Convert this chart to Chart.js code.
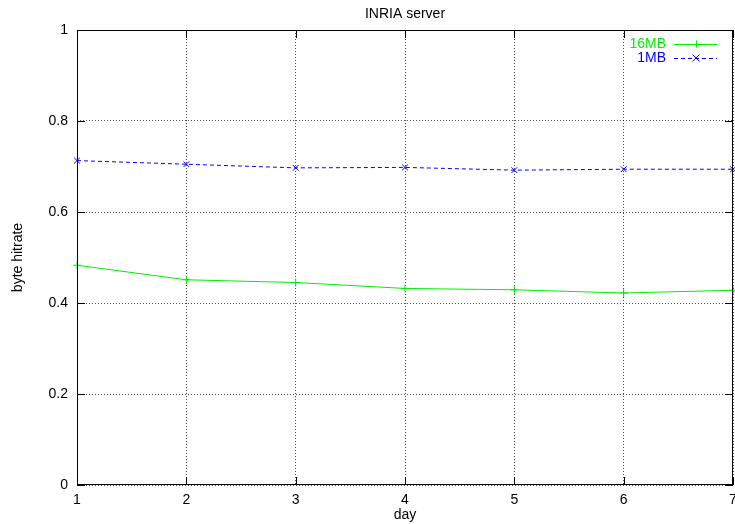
<!DOCTYPE html>
<html>
<head>
<meta charset="utf-8">
<script src="https://cdn.jsdelivr.net/npm/chart.js@4/dist/chart.umd.min.js"></script>
<style>
  html, body { margin: 0; padding: 0; background: #fff; }
  #wrap { width: 735px; height: 524px; }
</style>
</head>
<body>
<div id="wrap"><canvas id="c" width="735" height="524"></canvas></div>
<script>
// Byte hit rate per day for two cache sizes
const days = [1, 2, 3, 4, 5, 6, 7];
const hit16MB = [0.483, 0.451, 0.445, 0.432, 0.429, 0.422, 0.428];
const hit1MB  = [0.713, 0.705, 0.697, 0.698, 0.692, 0.694, 0.694];
const yTicks = [0, 0.2, 0.4, 0.6, 0.8, 1];
const xTicks = [1, 2, 3, 4, 5, 6, 7];
const seriesNames = ['16MB', '1MB'];
const chartTitle = 'INRIA server';

const FONT = 'Liberation Sans, Arial, Helvetica, sans-serif';
const GREEN = '#00ee00';
const BLUE = '#0000ff';

const toPoints = (xs, ys) => xs.map((x, i) => ({ x, y: ys[i] }));

// Frame, inward tick marks, title and key drawn in gnuplot style
const gnuplotDecor = {
  id: 'gnuplotDecor',
  afterDatasetsDraw(chart) {
    const { ctx, chartArea: a, scales } = chart;
    ctx.save();
    // frame
    ctx.strokeStyle = '#000';
    ctx.lineWidth = 1;
    ctx.setLineDash([]);
    ctx.strokeRect(a.left + 0.5, a.top + 0.5, a.right - a.left - 1, a.bottom - a.top - 1);
    // inward ticks
    const tl = 8;
    ctx.beginPath();
    yTicks.forEach(v => {
      const y = Math.round(scales.y.getPixelForValue(v)) + 0.5;
      ctx.moveTo(a.left, y); ctx.lineTo(a.left + tl, y);
      ctx.moveTo(a.right, y); ctx.lineTo(a.right - tl, y);
    });
    xTicks.forEach(v => {
      const x = Math.round(scales.x.getPixelForValue(v)) + 0.5;
      ctx.moveTo(x, a.bottom); ctx.lineTo(x, a.bottom - tl);
      ctx.moveTo(x, a.top); ctx.lineTo(x, a.top + tl);
    });
    ctx.stroke();

    // title
    ctx.fillStyle = '#000';
    ctx.font = '14px ' + FONT;
    ctx.textAlign = 'center';
    ctx.textBaseline = 'middle';
    ctx.fillText(chartTitle, (a.left + a.right) / 2, 14);

    // key
    chart.data.datasets.forEach((ds, i) => {
      const y = a.top + 14 + i * 14;
      const textRight = a.right - 67;
      const x0 = a.right - 59, x1 = a.right - 16;
      ctx.font = '14px ' + FONT;
      ctx.textAlign = 'right';
      ctx.fillStyle = ds.borderColor;
      ctx.fillText(seriesNames[i], textRight, y);
      ctx.strokeStyle = ds.borderColor;
      ctx.lineWidth = 1;
      ctx.setLineDash(ds.borderDash || []);
      ctx.beginPath();
      ctx.moveTo(x0, y + 0.5); ctx.lineTo(x1, y + 0.5);
      ctx.stroke();
      ctx.setLineDash([]);
      const mx = Math.round((x0 + x1) / 2), r = 3.5;
      ctx.beginPath();
      if (ds.pointStyle === 'cross') {
        ctx.moveTo(mx - r, y + 0.5); ctx.lineTo(mx + r, y + 0.5);
        ctx.moveTo(mx + 0.5, y - r); ctx.lineTo(mx + 0.5, y + r);
      } else {
        ctx.moveTo(mx - r, y - r); ctx.lineTo(mx + r, y + r);
        ctx.moveTo(mx - r, y + r); ctx.lineTo(mx + r, y - r);
      }
      ctx.stroke();
    });
    ctx.restore();
  }
};

new Chart(document.getElementById('c'), {
  type: 'line',
  data: {
    datasets: [
      {
        label: seriesNames[0],
        data: toPoints(days, hit16MB),
        borderColor: GREEN,
        backgroundColor: GREEN,
        borderWidth: 1,
        pointStyle: 'cross',
        pointRadius: 4,
        pointBorderWidth: 1,
        tension: 0,
        fill: false,
        clip: false
      },
      {
        label: seriesNames[1],
        data: toPoints(days, hit1MB),
        borderColor: BLUE,
        backgroundColor: BLUE,
        borderWidth: 1,
        borderDash: [4, 3],
        pointStyle: 'crossRot',
        pointRadius: 4,
        pointBorderWidth: 1,
        tension: 0,
        fill: false,
        clip: false
      }
    ]
  },
  options: {
    responsive: false,
    animation: false,
    layout: { autoPadding: false, padding: { top: 30, right: 2, left: 0, bottom: 0 } },
    plugins: {
      legend: { display: false },
      title: { display: false },
      tooltip: { enabled: false }
    },
    scales: {
      x: {
        type: 'linear',
        min: 1, max: 7,
        afterBuildTicks: s => { s.ticks = xTicks.map(v => ({ value: v })); },
        afterFit: s => { s.height = 39; s.paddingLeft = 0; s.paddingRight = 0; },
        ticks: {
          color: '#000',
          font: { family: FONT, size: 14 },
          padding: 7,
          maxRotation: 0,
          callback: v => String(v)
        },
        grid: {
          color: 'rgba(0,0,0,0.7)',
          lineWidth: 1,
          drawTicks: false
        },
        border: { display: false, dash: [1, 2] },
        title: {
          display: true,
          text: 'day',
          color: '#000',
          font: { family: FONT, size: 14 },
          padding: { top: 0, bottom: 0 }
        }
      },
      y: {
        min: 0, max: 1,
        afterBuildTicks: s => { s.ticks = yTicks.map(v => ({ value: v })); },
        afterFit: s => { s.width = 77; },
        ticks: {
          color: '#000',
          font: { family: FONT, size: 14 },
          padding: 9,
          callback: v => String(Math.round(v * 10) / 10)
        },
        grid: {
          color: 'rgba(0,0,0,0.7)',
          lineWidth: 1,
          drawTicks: false
        },
        border: { display: false, dash: [1, 2] },
        title: {
          display: true,
          text: 'byte hitrate',
          color: '#000',
          font: { family: FONT, size: 14 },
          padding: { top: 10, bottom: 0 }
        }
      }
    }
  },
  plugins: [gnuplotDecor]
});
</script>
</body>
</html>
